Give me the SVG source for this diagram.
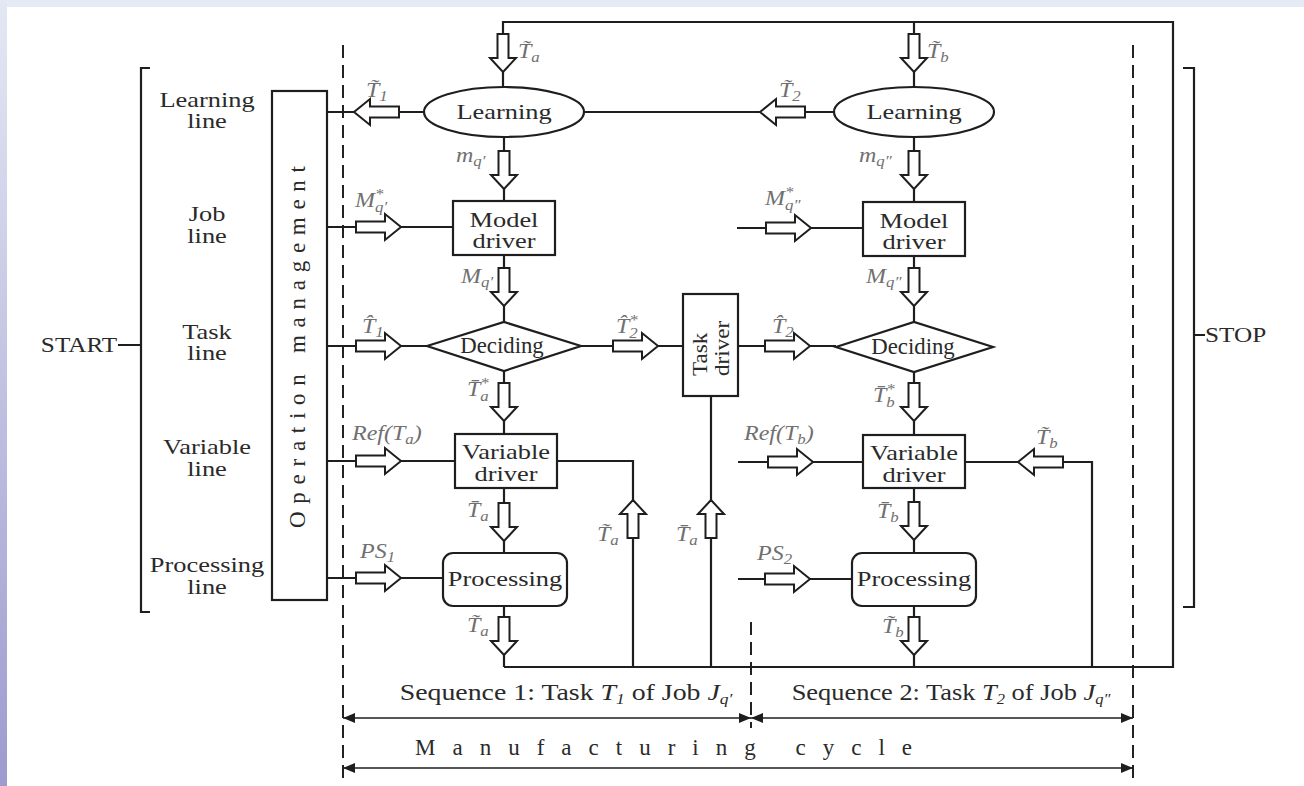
<svg xmlns="http://www.w3.org/2000/svg" width="1304" height="786" viewBox="0 0 1304 786">
<defs>
<linearGradient id="bandL" x1="0" y1="0" x2="0" y2="1">
<stop offset="0" stop-color="#e4e8f3"/>
<stop offset="1" stop-color="#9d9bcf"/>
</linearGradient>
<path id="aH" d="M0,-5.5 H29 V-13 L45,0 L29,13 V5.5 H0 Z" class="ar"/>
<path id="aV" d="M-5.5,0 V24 H-13 L0,38 L13,24 H5.5 V0 Z" class="ar"/>
<marker id="tip" viewBox="0 0 12 10" refX="12" refY="5" markerWidth="12" markerHeight="10" markerUnits="userSpaceOnUse" orient="auto-start-reverse">
<path d="M0,0 L12,5 L0,10 Z" fill="#1e1e1e"/>
</marker>
<style>
.ln{fill:none;stroke:#1e1e1e;stroke-width:2.2}
.nd{fill:#fff;stroke:#1e1e1e;stroke-width:2.2}
.ar{fill:#fff;stroke:#1e1e1e;stroke-width:2}
.dash{fill:none;stroke:#222;stroke-width:2;stroke-dasharray:13 7}
.dim{fill:none;stroke:#1e1e1e;stroke-width:1.6;marker-start:url(#tip);marker-end:url(#tip)}
.tx{font-family:"Liberation Serif","Times New Roman",serif;font-size:22px;fill:#2a2a2a}
.m{text-anchor:middle}
.lb{font-family:"Liberation Serif","Times New Roman",serif;font-style:italic;font-size:20px;fill:#707070}
.sb{font-size:14px}
.it{font-style:italic}
</style>
</defs>

<rect x="0" y="0" width="1304" height="786" fill="#fff"/>
<rect x="0" y="0" width="1304" height="7" fill="#e6eaf4"/>
<rect x="0" y="0" width="7" height="786" fill="url(#bandL)"/>

<g id="frame">
<path class="ln" d="M150,68 H141 V612 H150 M118,345 H141"/>
<text class="tx m" transform="translate(79 352) scale(1.2 1)" style="font-size:21px">START</text>
<path class="ln" d="M1183,68 H1194 V607 H1183 M1194,335 H1205"/>
<text class="tx" transform="translate(1205 342) scale(1.2 1)" style="font-size:21px">STOP</text>
<path class="dash" d="M343,45 V782 M1133,45 V782 M751,622 V728"/>
</g>

<g id="line-labels">
<text class="tx m" transform="translate(207 107) scale(1.2 1)">Learning</text>
<text class="tx m" transform="translate(207 128) scale(1.2 1)">line</text>
<text class="tx m" transform="translate(207 221) scale(1.2 1)">Job</text>
<text class="tx m" transform="translate(207 243) scale(1.2 1)">line</text>
<text class="tx m" transform="translate(207 339) scale(1.2 1)">Task</text>
<text class="tx m" transform="translate(207 360) scale(1.2 1)">line</text>
<text class="tx m" transform="translate(207 454) scale(1.2 1)">Variable</text>
<text class="tx m" transform="translate(207 476) scale(1.2 1)">line</text>
<text class="tx m" transform="translate(207 572) scale(1.2 1)">Processing</text>
<text class="tx m" transform="translate(207 594) scale(1.2 1)">line</text>
</g>

<g id="operation-management">
<rect class="nd" x="272" y="91" width="55" height="509"/>
<text class="tx m" transform="translate(305 347) rotate(-90)" style="font-size:23px" textLength="362" lengthAdjust="spacing">Operation management</text>
</g>

<g id="connectors">
<path class="ln" d="M503,34 V22 H1173 V667 H504
M503,72 V87 M327,112 H354 M399,112 H424
M504,137 V151 M504,189 V201
M327,227 H356 M401,227 H453
M504,255 V268 M504,306 V322
M327,346 H356 M401,346 H427 M581,346 H613 M658,346 H683
M504,371 V383 M504,421 V434
M327,461 H356 M401,461 H455 M557,461 H633 V500 M633,538 V667
M711,396 V500 M711,538 V667
M504,488 V503 M504,541 V553
M327,578 H356 M401,578 H443
M504,606 V617 M504,655 V667
M914,22 V34 M914,72 V87
M584,112 H760 M805,112 H834
M914,137 V151 M914,189 V202
M737,228 H766 M811,228 H863
M914,256 V268 M914,306 V322
M738,346 H765 M810,346 H836
M914,372 V383 M914,421 V435
M738,462 H768 M813,462 H863 M965,462 H1018 M1063,462 H1092 V667
M914,488 V502 M914,540 V553
M738,579 H765 M810,579 H852
M914,606 V617 M914,655 V667"/>
<use href="#aV" transform="translate(503 34)"/>
<use href="#aH" transform="translate(399 112) scale(-1 1)"/>
<use href="#aV" transform="translate(504 151)"/>
<use href="#aH" transform="translate(356 227)"/>
<use href="#aV" transform="translate(504 268)"/>
<use href="#aH" transform="translate(356 346)"/>
<use href="#aH" transform="translate(613 346)"/>
<use href="#aV" transform="translate(504 383)"/>
<use href="#aH" transform="translate(356 461)"/>
<use href="#aV" transform="translate(504 503)"/>
<use href="#aH" transform="translate(356 578)"/>
<use href="#aV" transform="translate(504 617)"/>
<use href="#aV" transform="translate(633 538) scale(1 -1)"/>
<use href="#aV" transform="translate(711 538) scale(1 -1)"/>
<use href="#aV" transform="translate(914 34)"/>
<use href="#aH" transform="translate(805 112) scale(-1 1)"/>
<use href="#aV" transform="translate(914 151)"/>
<use href="#aH" transform="translate(766 228)"/>
<use href="#aV" transform="translate(914 268)"/>
<use href="#aH" transform="translate(765 346)"/>
<use href="#aV" transform="translate(914 383)"/>
<use href="#aH" transform="translate(768 462)"/>
<use href="#aH" transform="translate(1063 462) scale(-1 1)"/>
<use href="#aV" transform="translate(914 502)"/>
<use href="#aH" transform="translate(765 579)"/>
<use href="#aV" transform="translate(914 617)"/>
</g>

<g id="labels">
<text class="lb" transform="translate(518 58) scale(1.2 1)">T&#x303;<tspan class="sb" dy="4">a</tspan></text>
<text class="lb" transform="translate(366 97) scale(1.2 1)">T&#x303;<tspan class="sb" dy="4">1</tspan></text>
<text class="lb" transform="translate(456 162) scale(1.2 1)">m<tspan class="sb" dy="4">q′</tspan></text>
<text class="lb" transform="translate(355 207) scale(1.2 1)">M<tspan class="sb" dy="-8">*</tspan><tspan class="sb" dx="-7" dy="13">q′</tspan></text>
<text class="lb" transform="translate(461 283) scale(1.2 1)">M<tspan class="sb" dy="4">q′</tspan></text>
<text class="lb" transform="translate(362 333) scale(1.2 1)">T&#x302;<tspan class="sb" dy="4">1</tspan></text>
<text class="lb" transform="translate(616 333) scale(1.2 1)">T&#x302;<tspan class="sb" dy="-8">*</tspan><tspan class="sb" dx="-7" dy="13">2</tspan></text>
<text class="lb" transform="translate(467 396) scale(1.2 1)">T&#x304;<tspan class="sb" dy="-8">*</tspan><tspan class="sb" dx="-7" dy="13">a</tspan></text>
<text class="lb" transform="translate(352 440) scale(1.2 1)">Ref(T<tspan class="sb" dy="4">a</tspan><tspan dy="-4">)</tspan></text>
<text class="lb" transform="translate(467 517) scale(1.2 1)">T&#x304;<tspan class="sb" dy="4">a</tspan></text>
<text class="lb" transform="translate(360 558) scale(1.2 1)">PS<tspan class="sb" dy="4">1</tspan></text>
<text class="lb" transform="translate(467 632) scale(1.2 1)">T&#x303;<tspan class="sb" dy="4">a</tspan></text>
<text class="lb" transform="translate(597 541) scale(1.2 1)">T&#x303;<tspan class="sb" dy="4">a</tspan></text>
<text class="lb" transform="translate(676 541) scale(1.2 1)">T&#x304;<tspan class="sb" dy="4">a</tspan></text>
<text class="lb" transform="translate(927 58) scale(1.2 1)">T&#x303;<tspan class="sb" dy="4">b</tspan></text>
<text class="lb" transform="translate(779 97) scale(1.2 1)">T&#x303;<tspan class="sb" dy="4">2</tspan></text>
<text class="lb" transform="translate(859 162) scale(1.2 1)">m<tspan class="sb" dy="4">q″</tspan></text>
<text class="lb" transform="translate(765 205) scale(1.2 1)">M<tspan class="sb" dy="-8">*</tspan><tspan class="sb" dx="-7" dy="13">q″</tspan></text>
<text class="lb" transform="translate(866 283) scale(1.2 1)">M<tspan class="sb" dy="4">q″</tspan></text>
<text class="lb" transform="translate(772 333) scale(1.2 1)">T&#x302;<tspan class="sb" dy="4">2</tspan></text>
<text class="lb" transform="translate(873 402) scale(1.2 1)">T&#x304;<tspan class="sb" dy="-8">*</tspan><tspan class="sb" dx="-7" dy="13">b</tspan></text>
<text class="lb" transform="translate(744 440) scale(1.2 1)">Ref(T<tspan class="sb" dy="4">b</tspan><tspan dy="-4">)</tspan></text>
<text class="lb" transform="translate(1036 444) scale(1.2 1)">T&#x303;<tspan class="sb" dy="4">b</tspan></text>
<text class="lb" transform="translate(877 518) scale(1.2 1)">T&#x304;<tspan class="sb" dy="4">b</tspan></text>
<text class="lb" transform="translate(757 560) scale(1.2 1)">PS<tspan class="sb" dy="4">2</tspan></text>
<text class="lb" transform="translate(882 633) scale(1.2 1)">T&#x303;<tspan class="sb" dy="4">b</tspan></text>
</g>

<g id="learning-1">
<ellipse class="nd" cx="504" cy="112" rx="80" ry="25"/>
<text class="tx m" transform="translate(504 119) scale(1.2 1)">Learning</text>
</g>
<g id="learning-2">
<ellipse class="nd" cx="914" cy="112" rx="80" ry="25"/>
<text class="tx m" transform="translate(914 119) scale(1.2 1)">Learning</text>
</g>
<g id="model-driver-1">
<rect class="nd" x="453" y="201" width="102" height="54"/>
<text class="tx m" transform="translate(504 227) scale(1.2 1)">Model</text>
<text class="tx m" transform="translate(504 248) scale(1.2 1)">driver</text>
</g>
<g id="model-driver-2">
<rect class="nd" x="863" y="202" width="102" height="54"/>
<text class="tx m" transform="translate(914 228) scale(1.2 1)">Model</text>
<text class="tx m" transform="translate(914 249) scale(1.2 1)">driver</text>
</g>
<g id="deciding-1">
<polygon class="nd" points="427,346 504,322 581,346 504,371"/>
<text class="tx m" transform="translate(502 353) scale(0.95 1)" style="font-size:24px">Deciding</text>
</g>
<g id="deciding-2">
<polygon class="nd" points="836,347 914,322 993,347 914,372"/>
<text class="tx m" transform="translate(913 354) scale(0.95 1)" style="font-size:24px">Deciding</text>
</g>
<g id="task-driver">
<rect class="nd" x="683" y="294" width="55" height="102"/>
<text class="tx" transform="translate(707 376) rotate(-90) scale(1.1 1)" style="font-size:21px">Task</text>
<text class="tx" transform="translate(729 376) rotate(-90) scale(1.1 1)" style="font-size:21px">driver</text>
</g>
<g id="variable-driver-1">
<rect class="nd" x="455" y="434" width="102" height="54"/>
<text class="tx m" transform="translate(506 459) scale(1.2 1)">Variable</text>
<text class="tx m" transform="translate(506 481) scale(1.2 1)">driver</text>
</g>
<g id="variable-driver-2">
<rect class="nd" x="863" y="435" width="102" height="53"/>
<text class="tx m" transform="translate(914 460) scale(1.2 1)">Variable</text>
<text class="tx m" transform="translate(914 482) scale(1.2 1)">driver</text>
</g>
<g id="processing-1">
<rect class="nd" x="443" y="553" width="124" height="53" rx="10"/>
<text class="tx m" transform="translate(505 586) scale(1.2 1)">Processing</text>
</g>
<g id="processing-2">
<rect class="nd" x="852" y="553" width="124" height="53" rx="10"/>
<text class="tx m" transform="translate(914 586) scale(1.2 1)">Processing</text>
</g>

<g id="cycle">
<path class="dim" d="M343,718 H751"/>
<path class="dim" d="M751,718 H1133"/>
<path class="dim" d="M343,768 H1133"/>
<text class="tx m" transform="translate(566 700) scale(1.16 1)" style="font-size:24px">Sequence 1: Task <tspan class="it">T</tspan><tspan class="it" style="font-size:15px" dy="4">1</tspan><tspan dy="-4"> of Job </tspan><tspan class="it">J</tspan><tspan class="it" style="font-size:15px" dy="4">q′</tspan></text>
<text class="tx m" transform="translate(951 700) scale(1.1 1)" style="font-size:24px">Sequence 2: Task <tspan class="it">T</tspan><tspan class="it" style="font-size:15px" dy="4">2</tspan><tspan dy="-4"> of Job </tspan><tspan class="it">J</tspan><tspan class="it" style="font-size:15px" dy="4">q″</tspan></text>
<text class="tx" x="415" y="755" style="font-size:23px" textLength="497" lengthAdjust="spacing">Manufacturing cycle</text>
</g>
</svg>
